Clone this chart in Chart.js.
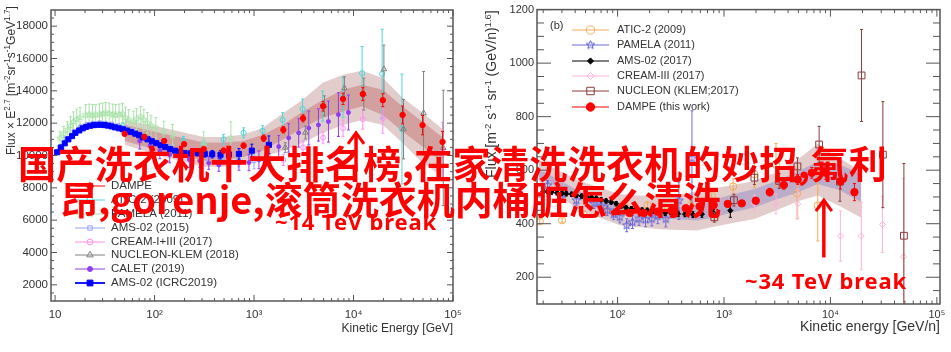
<!DOCTYPE html>
<html lang="en">
<head>
<meta charset="UTF-8" />
<title>DAMPE spectra</title>
<script src="https://cdn.jsdelivr.net/npm/chart.js"></script>
<style>
  html, body { margin: 0; padding: 0; background: #fff; width: 951px; height: 352px; overflow: hidden; }
  canvas { position: absolute; top: 0; filter: blur(0.35px); }
  #left { left: 0; }
  #right { left: 476px; }
  .red { position: absolute; color: #ff0000; white-space: nowrap; line-height: 1; }
  .big { font: 700 38px "Noto Sans CJK SC", sans-serif; }
  .note { font: 700 22px "Noto Sans", sans-serif; letter-spacing: 0.85px; }
</style>
</head>
<body>
<canvas id="left" width="476" height="352" style="width:476px;height:352px"></canvas>
<canvas id="right" width="475" height="352" style="width:475px;height:352px"></canvas>
<div class="red note" style="left:275px;top:206px">~14 TeV break</div>
<div class="red note" style="left:745px;top:265px">~34 TeV break</div>
<div class="red big" id="line1" style="left:18px;top:134px;letter-spacing:0.35px">国产洗衣机十大排名榜,在家清洗洗衣机的妙招,氟利</div>
<div class="red big" id="line2" style="left:60px;top:170px">昂,gorenje,滚筒洗衣机内桶脏怎么清洗</div>

<script>
// ---- panel (a) data, E in GeV, flux x E^2.7 ----
const a_damE = [50, 79, 125, 198, 312, 494, 785, 1250, 1970, 3110, 4940, 7850, 12400, 19700, 31100, 49400, 78500];
const a_damV = [11340, 11150, 10900, 10700, 10400, 10300, 10610, 11070, 11590, 12300, 13050, 13500, 13800, 13420, 12510, 11880, 10840];
const a_damErr = [120, 120, 120, 120, 120, 150, 150, 200, 200, 220, 300, 350, 400, 400, 550, 600, 650];

const a_aticE = [48, 195, 312, 494, 785, 1220, 1940, 3080, 4900, 7850, 12200, 19400, 30700];
const a_aticV = [11830, 10920, 10660, 11000, 11400, 11530, 12200, 12880, 13050, 13580, 15090, 15050, 11640];
const a_aticErr = [200, 250, 250, 310, 310, 310, 450, 620, 930, 1240, 1650, 2760, 3400];

const a_pamE = [11.2, 12.2, 13.3, 14.3, 15.3, 16.5, 17.8, 20.3, 22, 23.8, 25.6, 28, 30, 32.3, 35, 38, 40.6, 44, 47.5, 51, 55, 61.7, 66, 72.6, 78, 84.7, 92, 103, 124, 152, 312, 585];
const a_pamV = [11070, 11350, 11590, 11850, 12100, 12250, 12350, 12510, 12540, 12510, 12510, 12560, 12600, 12640, 12600, 12540, 12510, 12540, 12580, 12350, 12200, 12100, 12250, 12390, 12200, 12020, 11850, 11700, 11480, 11280, 10660, 11090];
const a_pamErr = [400, 450, 500, 550, 600, 620, 620, 640, 640, 640, 640, 640, 640, 640, 640, 640, 640, 640, 640, 640, 640, 640, 640, 640, 640, 640, 640, 640, 640, 640, 800, 1000];

const a_ams15E = [11, 13, 15.5, 18, 21, 24, 28, 32, 37, 43, 50, 60, 72, 88, 110, 140, 180, 240, 330, 480, 700, 1000, 1400];
const a_ams15V = [10500, 11050, 11500, 11780, 11930, 12000, 12030, 12000, 11950, 11850, 11720, 11540, 11330, 11080, 10820, 10550, 10330, 10150, 10000, 9850, 9750, 9670, 9900];
const a_ams15Err = [60, 60, 60, 60, 60, 60, 60, 60, 60, 60, 60, 70, 80, 90, 110, 130, 170, 220, 300, 400, 450, 500, 600];

const a_creamE = [1970, 3110, 4940, 7850, 12400, 19700, 78500];
const a_creamV = [9730, 10490, 11110, 11690, 12240, 12300, 10350];
const a_creamErr = [350, 400, 350, 500, 620, 930, 1700];

const a_nucE = [2060, 3280, 5100, 8100, 12700, 20200, 31800, 50600, 79800];
const a_nucV = [10490, 11420, 13070, 14170, 13800, 15340, 11630, 12620, 10470];
const a_nucErr = [300, 400, 620, 700, 990, 1490, 1840, 2580, 3570];

const a_calE = [71, 90, 113, 142, 178, 224, 285, 351, 443, 558, 705, 889, 1120, 1770, 2230, 2810, 3550, 4440, 5600, 7050, 8890];
const a_calV = [10900, 10600, 10300, 10050, 9900, 9750, 9670, 9540, 9420, 9540, 9540, 9560, 9730, 10550, 11090, 11400, 11700, 11890, 12100, 12530, 12660];
const a_calErr = [500, 500, 500, 500, 500, 500, 400, 400, 400, 450, 450, 500, 550, 680, 880, 880, 1050, 1000, 1270, 1350, 1080];

const a_amsE = [10.5, 11.5, 12.5, 13.6, 14.8, 16, 17.5, 19, 20.5, 22.5, 24.5, 26.5, 29, 31.5, 34, 37, 40, 44, 48, 53, 58, 64, 70, 77, 85, 94, 104, 115, 128, 143, 160, 180, 200, 230, 270, 320, 380, 460, 560, 705, 950, 1410];
const a_amsV = [10200, 10500, 10750, 11000, 11200, 11400, 11550, 11680, 11770, 11840, 11880, 11900, 11900, 11880, 11850, 11800, 11740, 11680, 11620, 11540, 11450, 11350, 11250, 11120, 11000, 10880, 10760, 10640, 10520, 10400, 10300, 10200, 10150, 10130, 10150, 10100, 10080, 10050, 10060, 10100, 10300, 10660];
const a_amsErr = [30, 30, 30, 30, 30, 30, 30, 30, 30, 30, 30, 30, 30, 30, 30, 30, 30, 30, 30, 30, 30, 30, 30, 30, 40, 40, 40, 50, 60, 70, 80, 100, 120, 150, 180, 200, 230, 260, 300, 330, 400, 550];

const a_bandE = [50, 125, 312, 494, 785, 1220, 1940, 3080, 4900, 7850, 12200, 19700, 31100, 49400, 80000];
const a_outerHi = [12200, 11700, 11150, 11150, 11300, 11700, 12600, 13450, 14500, 15000, 15250, 14800, 13570, 12640, 11590];
const a_outerLo = [10660, 9900, 9300, 9300, 9500, 9900, 10300, 10780, 11400, 11890, 12200, 11890, 10780, 9540, 8680];
const a_innerHi = [11900, 11350, 10800, 10800, 10900, 11280, 11900, 12700, 13440, 14060, 14370, 14060, 13030, 12080, 11090];
const a_innerLo = [10900, 10200, 9700, 9700, 9900, 10300, 10970, 11700, 12330, 12720, 13030, 12510, 11480, 10550, 9540];

// ---- panel (b) data, helium per nucleon ----
const b_aticE = [18.6, 30.1, 48, 76, 119, 191, 297, 486, 766, 1220, 1930, 3080, 4860, 7600];
const b_aticV = [409, 413, 435, 447, 461, 469, 454, 469, 506, 539, 585, 620, 513, 468];
const b_aticErr = [8, 8, 10, 10, 10, 12, 14, 18, 22, 28, 50, 80, 95, 132];

const b_pamE = [22, 30.6, 41, 51, 60, 70, 80, 92, 105, 122, 138, 159, 183, 210, 239, 284, 377, 500];
const b_pamV = [543, 511, 487, 498, 475, 465, 450, 435, 425, 394, 406, 418, 415, 418, 428, 418, 486, 644];
const b_pamErr = [18, 18, 18, 18, 18, 18, 20, 20, 22, 24, 24, 24, 26, 26, 28, 30, 70, 178];

const b_amsE = [20, 22, 24, 27, 30, 33, 37, 41, 46, 51, 57, 63, 70, 78, 87, 97, 108, 120, 135, 150, 170, 190, 215, 245, 280, 320, 370, 430, 510, 620, 800, 1146];
const b_amsV = [520, 520, 518, 515, 514, 512, 510, 506, 503, 500, 498, 495, 490, 485, 481, 475, 466, 460, 456, 453, 451, 450, 447, 443, 440, 438, 437, 436, 434, 436, 440, 449];
const b_amsErr = [8, 8, 8, 8, 8, 8, 8, 8, 8, 8, 8, 8, 8, 8, 8, 8, 8, 8, 8, 8, 8, 8, 8, 8, 9, 9, 10, 10, 11, 12, 14, 25];

const b_creamE = [1930, 3080, 4930, 12400, 19500, 30800, 48600];
const b_creamV = [476, 474, 474, 354, 354, 397, 277];
const b_creamErr = [30, 37, 55, 94, 126, 105, 292];

const b_nucE = [811, 1240, 1930, 3300, 4900, 7830, 12300, 19600, 31100, 49000];
const b_nucV = [424, 488, 572, 560, 614, 696, 557, 954, 658, 355];
const b_nucErr = [18, 22, 26, 28, 32, 68, 73, 172, 198, 270];

const b_damE = [130, 176, 238, 322, 437, 590, 800, 1084, 1470, 1990, 2690, 3650, 4930, 6680, 9050, 12400, 16800];
const b_damV = [440, 440, 445, 450, 458, 465, 470, 474, 476, 486, 518, 545, 565, 590, 590, 558, 518];
const b_damErr = [5, 5, 5, 6, 6, 7, 8, 9, 10, 12, 14, 16, 18, 20, 24, 28, 32];

const b_bandE = [18, 21.5, 44, 105, 267, 553, 755, 1216, 1930, 3080, 4930, 7600, 12300, 19500];
const b_outerHi = [640, 620, 560, 510, 500, 520, 530, 545, 560, 590, 640, 699, 644, 595];
const b_outerLo = [560, 535, 450, 394, 378, 375, 387, 403, 418, 449, 484, 505, 465, 422];
const b_innerHi = [600, 590, 520, 465, 455, 470, 487, 510, 530, 560, 595, 632, 620, 587];
const b_innerLo = [575, 560, 490, 430, 420, 412, 420, 443, 461, 490, 517, 548, 525, 480];

// axis ticks
const xMajor = [10, 100, 1000, 10000, 100000];
const xLabels = ['10', '10²', '10³', '10⁴', '10⁵'];
const xMajorB = [100, 1000, 10000, 100000];
const xLabelsB = ['10²', '10³', '10⁴', '10⁵'];
const a_yMajor = [2000, 4000, 6000, 8000, 10000, 12000, 14000, 16000, 18000];
const b_yMajor = [200, 400, 600, 800, 1000, 1200];

const FONT = '"Liberation Sans", Arial, sans-serif';
const INK = '#333';
const AXIS = '#555';

function pts(xs, ys) { return xs.map((x, i) => ({ x, y: ys[i] })); }

// five pointed open star, Chart.js only has the eight line one
function starMark(color, r) {
  const c = document.createElement('canvas');
  c.width = c.height = Math.ceil(r * 2 + 2);
  const g = c.getContext('2d');
  g.translate(c.width / 2, c.height / 2);
  g.strokeStyle = color;
  g.lineWidth = 1;
  g.beginPath();
  for (let i = 0; i < 10; i++) {
    const rr = i % 2 ? r * 0.42 : r;
    const t = -Math.PI / 2 + i * Math.PI / 5;
    g.lineTo(rr * Math.cos(t), rr * Math.sin(t));
  }
  g.closePath();
  g.stroke();
  return c;
}

function marks(label, xs, ys, err, color, style, r, opts) {
  return Object.assign({
    label, data: pts(xs, ys), err, errColor: color,
    borderColor: color, backgroundColor: 'transparent',
    pointBorderColor: color, pointBackgroundColor: '#ffffff00',
    pointStyle: style, pointRadius: r, pointBorderWidth: 1,
    showLine: false, legendLine: 1
  }, opts || {});
}

function band(xs, ys, fillTo, color) {
  return {
    label: '', data: pts(xs, ys), pointRadius: 0, borderWidth: 0, tension: 0,
    borderColor: 'transparent', backgroundColor: color,
    fill: fillTo === null ? false : { target: fillTo }
  };
}

function minorDecades(from, to) {
  const out = [];
  for (let d = 10; d < 1e5; d *= 10) {
    for (let m = 2; m < 10; m++) {
      if (m * d >= from && m * d <= to) out.push(m * d);
    }
  }
  return out;
}
function minorLinear(from, to, step, major) {
  const out = [];
  for (let v = from; v <= to; v += step) if (!major.includes(v)) out.push(v);
  return out;
}

// inward ticks on all four sides, frame, error bars, legend, y title, arrow
const panelPlugin = {
  id: 'panel',
  beforeDatasetDraw(chart, args) {
    const ds = chart.data.datasets[args.index];
    if (!ds.err) return;
    const { ctx, chartArea: c } = chart;
    const xs = chart.scales.x, ys = chart.scales.y;
    ctx.save();
    ctx.beginPath();
    ctx.rect(c.left, c.top, c.right - c.left, c.bottom - c.top);
    ctx.clip();
    ctx.strokeStyle = ds.errColor;
    ctx.lineWidth = 1;
    ds.data.forEach((p, i) => {
      const x = xs.getPixelForValue(p.x);
      const y1 = ys.getPixelForValue(p.y - ds.err[i]);
      const y2 = ys.getPixelForValue(p.y + ds.err[i]);
      ctx.beginPath();
      ctx.moveTo(x, y1); ctx.lineTo(x, y2);
      ctx.moveTo(x - 1.5, y1); ctx.lineTo(x + 1.5, y1);
      ctx.moveTo(x - 1.5, y2); ctx.lineTo(x + 1.5, y2);
      ctx.stroke();
    });
    ctx.restore();
  },
  afterDraw(chart, args, o) {
    const { ctx, chartArea: c } = chart;
    const xs = chart.scales.x, ys = chart.scales.y;
    ctx.save();
    ctx.strokeStyle = AXIS;
    ctx.lineWidth = 1;
    const tickX = (v, len) => {
      const x = xs.getPixelForValue(v);
      ctx.beginPath();
      ctx.moveTo(x, c.bottom); ctx.lineTo(x, c.bottom - len);
      ctx.moveTo(x, c.top); ctx.lineTo(x, c.top + len);
      ctx.stroke();
    };
    const tickY = (v, len) => {
      const y = ys.getPixelForValue(v);
      ctx.beginPath();
      ctx.moveTo(c.left, y); ctx.lineTo(c.left + len, y);
      ctx.moveTo(c.right, y); ctx.lineTo(c.right - len, y);
      ctx.stroke();
    };
    o.xMajor.forEach(v => tickX(v, o.xLen));
    o.xMinor.forEach(v => tickX(v, o.xLen / 2));
    o.yMajor.forEach(v => tickY(v, o.yLen));
    o.yMinor.forEach(v => tickY(v, o.yLen / 2));
    ctx.lineWidth = 1.5;
    ctx.strokeRect(c.left, c.top, c.right - c.left, c.bottom - c.top);

    // legend
    ctx.textBaseline = 'middle';
    ctx.textAlign = 'left';
    ctx.font = o.legendFont;
    o.legend.forEach((idx, row) => {
      const ds = chart.data.datasets[idx];
      const y = o.legendY[row];
      ctx.strokeStyle = ds.borderColor;
      ctx.lineWidth = ds.legendLine;
      ctx.beginPath();
      ctx.moveTo(o.legendX[0], y); ctx.lineTo(o.legendX[1], y);
      ctx.stroke();
      ctx.fillStyle = ds.pointBackgroundColor;
      ctx.strokeStyle = ds.pointBorderColor;
      ctx.lineWidth = 1;
      Chart.helpers.drawPoint(ctx, { pointStyle: ds.pointStyle, radius: ds.pointRadius + 0.5, borderWidth: 1, rotation: 0 }, (o.legendX[0] + o.legendX[1]) / 2, y);
      ctx.fillStyle = INK;
      ctx.fillText(ds.label, o.legendX[2], y);
    });

    // rotated y title with real superscripts
    ctx.save();
    ctx.translate(o.titleX, o.titleY);
    ctx.rotate(-Math.PI / 2);
    ctx.fillStyle = INK;
    ctx.textBaseline = 'alphabetic';
    let pos = 0;
    o.title.forEach(seg => {
      const sup = seg.startsWith('^');
      const txt = sup ? seg.slice(1) : seg;
      ctx.font = (sup ? o.titleSize * 0.68 : o.titleSize) + 'px ' + FONT;
      ctx.fillText(txt, pos, sup ? -o.titleSize * 0.38 : 0);
      pos += ctx.measureText(txt).width;
    });
    ctx.restore();

    if (o.tag) {
      ctx.font = '11px ' + FONT;
      ctx.fillStyle = INK;
      ctx.fillText(o.tag, o.tagX, o.tagY);
    }

    // break arrow
    const ax = xs.getPixelForValue(o.arrowE);
    const ay1 = ys.getPixelForValue(o.arrowFrom), ay2 = ys.getPixelForValue(o.arrowTo);
    ctx.strokeStyle = '#ff0000';
    ctx.lineWidth = 3.5;
    ctx.beginPath();
    ctx.moveTo(ax, ay1); ctx.lineTo(ax, ay2 + 3);
    ctx.stroke();
    ctx.lineWidth = 3;
    ctx.beginPath();
    ctx.moveTo(ax - 8, ay2 + 12); ctx.lineTo(ax, ay2 + 1); ctx.lineTo(ax + 8, ay2 + 12);
    ctx.stroke();
    ctx.restore();
  }
};

function makePanel(id, cfg) {
  new Chart(document.getElementById(id), {
    type: 'line',
    data: { datasets: cfg.datasets },
    plugins: [panelPlugin],
    options: {
      responsive: false,
      animation: false,
      layout: { padding: cfg.padding },
      scales: {
        x: {
          type: 'logarithmic', min: cfg.xMin, max: cfg.xMax,
          grid: { display: false, drawTicks: false }, border: { display: false },
          afterBuildTicks(s) { s.ticks = cfg.xTicks.map(v => ({ value: v })); },
          afterFit(s) { s.height = cfg.xHeight; },
          ticks: {
            autoSkip: false, maxRotation: 0, minRotation: 0, padding: cfg.xPad,
            color: INK, font: { family: FONT, size: cfg.tickSize },
            callback: v => cfg.xLabels[cfg.xTicks.indexOf(v)]
          },
          title: {
            display: true, text: cfg.xTitle, align: 'end', color: INK, padding: { top: 0, bottom: 16 },
            font: { family: FONT, size: cfg.xTitleSize }
          }
        },
        y: {
          type: 'linear', min: cfg.yMin, max: cfg.yMax,
          grid: { display: false, drawTicks: false }, border: { display: false },
          afterBuildTicks(s) { s.ticks = cfg.yMajor.map(v => ({ value: v })); },
          afterFit(s) { s.width = cfg.yWidth; },
          ticks: { color: INK, padding: 3, font: { family: FONT, size: cfg.tickSize }, callback: v => String(v) }
        }
      },
      plugins: {
        legend: { display: false },
        tooltip: { enabled: false },
        panel: cfg.panel
      }
    }
  });
}

makePanel('left', {
  padding: { left: 0, top: 10, right: 23, bottom: 0 },
  xMin: 9.1, xMax: 100000, yMin: 1000, yMax: 19000,
  xTicks: xMajor, xLabels, yMajor: a_yMajor,
  xHeight: 51, yWidth: 51, xPad: 7, tickSize: 11.5,
  xTitle: 'Kinetic Energy [GeV]', xTitleSize: 12,
  datasets: [
    marks('DAMPE', a_damE, a_damV, a_damErr, '#ff0000', 'circle', 2.7, { pointBackgroundColor: '#ff0000' }),
    marks('AMS-02 (ICRC2019)', a_amsE, a_amsV, a_amsErr, '#0000ff', 'rect', 3.6, { pointBackgroundColor: '#0000ff', legendLine: 1.8 }),
    marks('CALET (2019)', a_calE, a_calV, a_calErr, '#8f3df0', 'circle', 2, { pointBackgroundColor: '#8f3df0' }),
    marks('NUCLEON-KLEM (2018)', a_nucE, a_nucV, a_nucErr, '#808080', 'triangle', 3.2),
    marks('CREAM-I+III (2017)', a_creamE, a_creamV, a_creamErr, '#ff8cf0', 'circle', 2.4),
    marks('AMS-02 (2015)', a_ams15E, a_ams15V, a_ams15Err, '#9aa4f8', 'rect', 2.6),
    marks('PAMELA (2011)', a_pamE, a_pamV, a_pamErr, '#a9e2a9', starMark('#a9e2a9', 3.5), 3.5),
    marks('ATIC-2 (2009)', a_aticE, a_aticV, a_aticErr, '#4fd6d6', 'circle', 2.6),
    band(a_bandE, a_innerHi, 9, 'rgba(190,100,100,0.42)'),
    band(a_bandE, a_innerLo, null, 'transparent'),
    band(a_bandE, a_outerHi, 11, 'rgba(175,115,115,0.36)'),
    band(a_bandE, a_outerLo, null, 'transparent')
  ],
  panel: {
    xMajor, xMinor: minorDecades(10, 100000), xLen: 6,
    yMajor: a_yMajor, yMinor: minorLinear(1500, 18500, 500, a_yMajor), yLen: 6,
    legend: [0, 7, 6, 5, 4, 3, 2, 1],
    legendX: [75, 105, 111], legendY: [186, 200, 214, 228, 242, 255, 269, 283],
    legendFont: '11.5px ' + FONT,
    title: ['Flux × E', '^2.7', ' [m', '^-2', 'sr', '^-1', 's', '^-1', 'GeV', '^1.7', ']'],
    titleX: 15, titleY: 155, titleSize: 12,
    arrowE: 10600, arrowFrom: 9000, arrowTo: 11460
  }
});

makePanel('right', {
  padding: { left: 0, top: 7, right: 11, bottom: 0 },
  xMin: 17.5, xMax: 107000, yMin: 100, yMax: 1200,
  xTicks: xMajorB, xLabels: xLabelsB, yMajor: b_yMajor,
  xHeight: 48, yWidth: 61, xPad: 4, tickSize: 11,
  xTitle: 'Kinetic energy [GeV/n]', xTitleSize: 14,
  datasets: [
    marks('DAMPE (this work)', b_damE, b_damV, b_damErr, '#ff0000', 'circle', 3.7, { pointBackgroundColor: '#ff0000' }),
    marks('NUCLEON (KLEM;2017)', b_nucE, b_nucV, b_nucErr, '#8a3b3b', 'rect', 4.8),
    marks('CREAM-III (2017)', b_creamE, b_creamV, b_creamErr, '#ffb2da', 'rectRot', 3),
    marks('AMS-02 (2017)', b_amsE, b_amsV, b_amsErr, '#000000', 'rectRot', 2.6, { pointBackgroundColor: '#000000' }),
    marks('PAMELA (2011)', b_pamE, b_pamV, b_pamErr, '#6a6ad8', starMark('#5a5ad8', 4.5), 4),
    marks('ATIC-2 (2009)', b_aticE, b_aticV, b_aticErr, '#f7aa55', 'circle', 3.6),
    band(b_bandE, b_innerHi, 7, 'rgba(140,135,200,0.45)'),
    band(b_bandE, b_innerLo, null, 'transparent'),
    band(b_bandE, b_outerHi, 9, 'rgba(175,115,115,0.36)'),
    band(b_bandE, b_outerLo, null, 'transparent')
  ],
  panel: {
    xMajor: xMajorB, xMinor: minorDecades(20, 100000), xLen: 7,
    yMajor: b_yMajor, yMinor: minorLinear(150, 1150, 50, b_yMajor), yLen: 14,
    legend: [5, 4, 3, 2, 1, 0],
    legendX: [96, 133, 141], legendY: [30, 45, 61, 76, 91, 107],
    legendFont: '11px ' + FONT,
    title: ['Flux [m', '^-2', ' s', '^-1', ' sr', '^-1', ' (GeV/n)', '^1.6', ']'],
    titleX: 20, titleY: 178, titleSize: 14,
    tag: '(b)', tagX: 74, tagY: 26,
    arrowE: 8670, arrowFrom: 274, arrowTo: 492
  }
});
</script>
</body>
</html>
